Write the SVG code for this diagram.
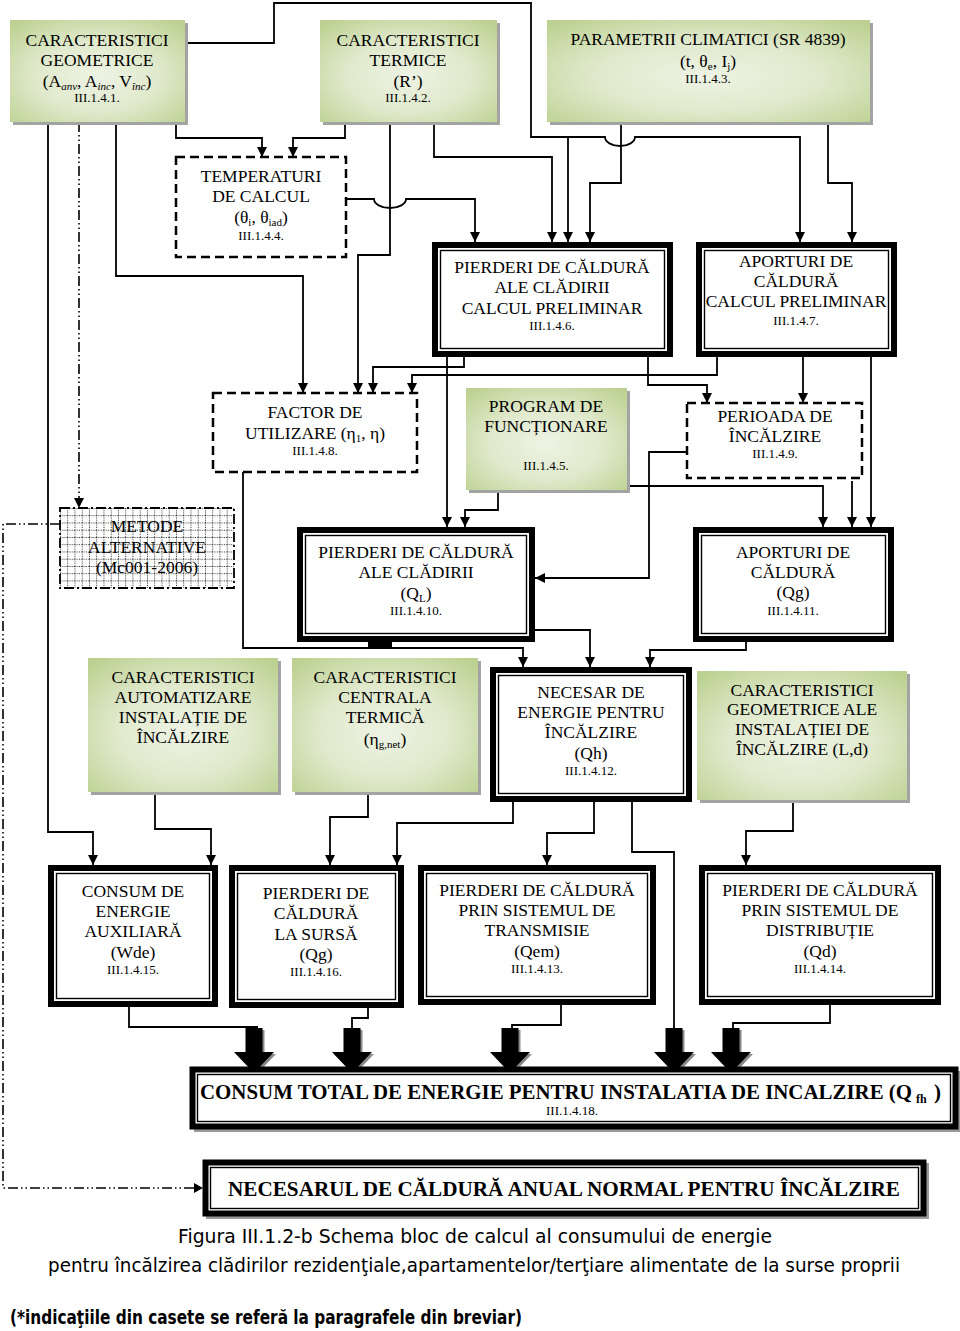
<svg xmlns="http://www.w3.org/2000/svg" width="960" height="1331" viewBox="0 0 960 1331">
<style>
text{font-family:"Liberation Serif","Times New Roman",serif;fill:#000}
.t{font-size:17.5px;text-anchor:middle}
.n{font-size:13px;text-anchor:middle}
.s{font-size:11px}
.c{fill:none;stroke:#000;stroke-width:1.8;marker-end:url(#ah)}
.cn{fill:none;stroke:#000;stroke-width:1.8}
.dd{fill:none;stroke:#000;stroke-width:1.6;stroke-dasharray:10 3 1.5 3 1.5 3}
.tk{fill:#fff;stroke:#000;stroke-width:6}
.tn{fill:none;stroke:#000;stroke-width:1.4}
.gb{fill:url(#gr)}
.sh{fill:#a3a3a3}
.ds{fill:#fff;stroke:#000;stroke-width:2.5;stroke-dasharray:9 5}
.ba{fill:#000}
.bs{fill:#8a8a8a}
.cap{font-family:"DejaVu Sans","Liberation Sans",sans-serif;font-size:19px}
</style>
<defs>
<marker id="ah" viewBox="0 0 10 10" refX="10" refY="5" markerWidth="10" markerHeight="10" markerUnits="userSpaceOnUse" orient="auto"><path d="M0,0 L10,5 L0,10 z" fill="#000"/></marker>
<radialGradient id="gr" cx="50%" cy="55%" r="70%">
<stop offset="0" stop-color="#eef3e4"/>
<stop offset="0.5" stop-color="#e0e9cc"/>
<stop offset="1" stop-color="#bcd191"/>
</radialGradient>
<pattern id="grid" x="60" y="508" width="7.25" height="7.25" patternUnits="userSpaceOnUse"><path d="M0,0.5H7.25M0.5,0V7.25" stroke="#000" stroke-width="0.8" stroke-dasharray="1 1.2"/></pattern>
</defs>
<rect width="960" height="1331" fill="#fff"/>

<g id="connectors">
<path class="c" d="M185,43 H274 V3 H531 V137 H605 A15 9 0 0 0 635 137 H800 V242"/>
<path class="c" d="M568,137 V242"/>
<path class="c" d="M176,122 V138 H262 V157"/>
<path class="c" d="M345,122 V138 H293 V157"/>
<path class="c" d="M48,122 V832 H93 V865"/>
<path class="dd" d="M79,122 V500"/>
<path d="M74,498 L79,508 L84,498 z" fill="#000"/>
<path class="c" d="M116,122 V276 H303 V393"/>
<path class="c" d="M390,122 V255 H358 V393"/>
<path class="c" d="M434,122 V157 H552 V242"/>
<path class="c" d="M621,122 V183 H590 V242"/>
<path class="c" d="M828,122 V183 H852 V242"/>
<path class="c" d="M346,199 H374 A16 9 0 0 0 406 199 H475 V242"/>
<path class="c" d="M464,357 V367 H373 V393"/>
<path class="c" d="M447,357 V527"/>
<path class="c" d="M717,357 V375 H412 V393"/>
<path class="c" d="M648,357 V385 H707 V403"/>
<path class="c" d="M803,357 V403"/>
<path class="c" d="M871,357 V527"/>
<path class="c" d="M687,452 H649 V578 H535"/>
<path class="c" d="M852,481 V527"/>
<path class="c" d="M627,486 H823 V527"/>
<path class="c" d="M498,490 V510 H465 V527"/>
<path class="c" d="M243,472 V648 H523 V667"/>
<path class="c" d="M535,630 H590 V667"/>
<path class="c" d="M746,642 V650 H650 V667"/>
<path class="dd" d="M60,524 H3 V1188 H196"/>
<path d="M194,1183 L203,1188 L194,1193 z" fill="#000"/>
<path class="c" d="M155,792 V829 H211 V865"/>
<path class="c" d="M368,792 V817 H330 V865"/>
<path class="c" d="M513,802 V823 H397 V865"/>
<path class="c" d="M594,802 V833 H547 V865"/>
<path class="cn" d="M632,802 V852 H674 V1028"/>
<path class="c" d="M793,800 V831 H746 V865"/>
<path class="cn" d="M129,1007 V1027 H258"/>
<path class="cn" d="M368,1008 V1018 H352 V1028"/>
<path class="cn" d="M561,1005 V1025 H512 V1028"/>
<path class="cn" d="M830,1005 V1023 H733 V1028"/>
<g id="blockarrows">
<path class="bs" d="M247.5,1030 H264.5 V1054 H276 L256,1075 L236,1054 H247.5 Z"/>
<path class="ba" d="M245.5,1028 H262.5 V1052 H274 L254,1073 L234,1052 H245.5 Z"/>
<path class="bs" d="M345.5,1030 H362.5 V1054 H374 L354,1075 L334,1054 H345.5 Z"/>
<path class="ba" d="M343.5,1028 H360.5 V1052 H372 L352,1073 L332,1052 H343.5 Z"/>
<path class="bs" d="M503.5,1030 H520.5 V1054 H532 L512,1075 L492,1054 H503.5 Z"/>
<path class="ba" d="M501.5,1028 H518.5 V1052 H530 L510,1073 L490,1052 H501.5 Z"/>
<path class="bs" d="M667.5,1030 H684.5 V1054 H696 L676,1075 L656,1054 H667.5 Z"/>
<path class="ba" d="M665.5,1028 H682.5 V1052 H694 L674,1073 L654,1052 H665.5 Z"/>
<path class="bs" d="M724.5,1030 H741.5 V1054 H753 L733,1075 L713,1054 H724.5 Z"/>
<path class="ba" d="M722.5,1028 H739.5 V1052 H751 L731,1073 L711,1052 H722.5 Z"/>
</g>
</g>

<g id="G1">
<rect class="sh" x="13" y="23" width="175" height="102"/>
<rect class="gb" x="10" y="20" width="175" height="102"/>
<text class="t" x="97" y="46">CARACTERISTICI</text>
<text class="t" x="97" y="66">GEOMETRICE</text>
<text class="t" x="97" y="87">(A<tspan class="s" font-style="italic" dy="3">anv</tspan><tspan dy="-3">, A</tspan><tspan class="s" font-style="italic" dy="3">inc</tspan><tspan dy="-3">, V</tspan><tspan class="s" font-style="italic" dy="3">înc</tspan><tspan dy="-3">)</tspan></text>
<text class="n" x="97" y="102">III.1.4.1.</text>
</g>

<g id="G2">
<rect class="sh" x="323" y="23" width="177" height="102"/>
<rect class="gb" x="320" y="20" width="177" height="102"/>
<text class="t" x="408" y="46">CARACTERISTICI</text>
<text class="t" x="408" y="66">TERMICE</text>
<text class="t" x="408" y="87">(R’)</text>
<text class="n" x="408" y="102">III.1.4.2.</text>
</g>

<g id="G3">
<rect class="sh" x="550" y="23" width="323" height="102"/>
<rect class="gb" x="547" y="20" width="323" height="102"/>
<text class="t" x="708" y="45">PARAMETRII CLIMATICI (SR 4839)</text>
<text class="t" x="708" y="67">(t, θ<tspan class="s" dy="3">e</tspan><tspan dy="-3">, I</tspan><tspan class="s" dy="3">j</tspan><tspan dy="-3">)</tspan></text>
<text class="n" x="708" y="83">III.1.4.3.</text>
</g>

<g id="TEMP">
<rect class="ds" x="176" y="157" width="170" height="100"/>
<text class="t" x="261" y="182">TEMPERATURI</text>
<text class="t" x="261" y="202">DE CALCUL</text>
<text class="t" x="261" y="223">(θ<tspan class="s" dy="3">i</tspan><tspan dy="-3">, θ</tspan><tspan class="s" dy="3">iad</tspan><tspan dy="-3">)</tspan></text>
<text class="n" x="261" y="240">III.1.4.4.</text>
</g>

<g id="P6">
<rect class="tk" x="435" y="245" width="235" height="109"/>
<rect class="tn" x="440.5" y="250.5" width="224" height="98"/>
<text class="t" x="552" y="273">PIERDERI DE CĂLDURĂ</text>
<text class="t" x="552" y="293">ALE CLĂDIRII</text>
<text class="t" x="552" y="314">CALCUL PRELIMINAR</text>
<text class="n" x="552" y="330">III.1.4.6.</text>
</g>

<g id="A7">
<rect class="tk" x="699" y="245" width="195" height="109"/>
<rect class="tn" x="704.5" y="250.5" width="184" height="98"/>
<text class="t" x="796" y="267">APORTURI DE</text>
<text class="t" x="796" y="287">CĂLDURĂ</text>
<text class="t" x="796" y="307">CALCUL PRELIMINAR</text>
<text class="n" x="796" y="325">III.1.4.7.</text>
</g>

<g id="FACT">
<rect class="ds" x="213" y="393" width="204" height="79"/>
<text class="t" x="315" y="418">FACTOR DE</text>
<text class="t" x="315" y="439">UTILIZARE (η<tspan class="s" dy="3">1</tspan><tspan dy="-3">, η)</tspan></text>
<text class="n" x="315" y="455">III.1.4.8.</text>
</g>

<g id="PROG">
<rect class="sh" x="469" y="391" width="161" height="102"/>
<rect class="gb" x="466" y="388" width="161" height="102"/>
<text class="t" x="546" y="412">PROGRAM DE</text>
<text class="t" x="546" y="432">FUNCȚIONARE</text>
<text class="n" x="546" y="470">III.1.4.5.</text>
</g>

<g id="PER">
<rect class="ds" x="687" y="403" width="175" height="75"/>
<text class="t" x="775" y="422">PERIOADA DE</text>
<text class="t" x="775" y="442">ÎNCĂLZIRE</text>
<text class="n" x="775" y="458">III.1.4.9.</text>
</g>

<g id="METODE">
<rect x="60" y="508" width="174" height="80" fill="#fff"/>
<text class="t" x="147" y="532">METODE</text>
<text class="t" x="147" y="553">ALTERNATIVE</text>
<text class="t" x="147" y="573">(Mc001-2006)</text>
<rect x="60" y="508" width="174" height="80" fill="url(#grid)"/>
<rect x="60" y="508" width="174" height="80" fill="none" stroke="#000" stroke-width="1.8" stroke-dasharray="10 3 2 3"/>
</g>

<g id="QL">
<rect x="368" y="640" width="24" height="8" fill="#000"/>
<rect class="tk" x="300" y="530" width="232" height="109"/>
<rect class="tn" x="305.5" y="535.5" width="221" height="98"/>
<text class="t" x="416" y="558">PIERDERI DE CĂLDURĂ</text>
<text class="t" x="416" y="578">ALE CLĂDIRII</text>
<text class="t" x="416" y="599">(Q<tspan class="s" dy="3">L</tspan><tspan dy="-3">)</tspan></text>
<text class="n" x="416" y="615">III.1.4.10.</text>
</g>

<g id="Qg">
<rect class="tk" x="696" y="530" width="195" height="109"/>
<rect class="tn" x="701.5" y="535.5" width="184" height="98"/>
<text class="t" x="793" y="558">APORTURI DE</text>
<text class="t" x="793" y="578">CĂLDURĂ</text>
<text class="t" x="793" y="598">(Qg)</text>
<text class="n" x="793" y="615">III.1.4.11.</text>
</g>

<g id="AUT">
<rect class="sh" x="91" y="661" width="190" height="134"/>
<rect class="gb" x="88" y="658" width="190" height="134"/>
<text class="t" x="183" y="683">CARACTERISTICI</text>
<text class="t" x="183" y="703">AUTOMATIZARE</text>
<text class="t" x="183" y="723">INSTALAȚIE DE</text>
<text class="t" x="183" y="743">ÎNCĂLZIRE</text>
</g>

<g id="CEN">
<rect class="sh" x="295" y="661" width="186" height="134"/>
<rect class="gb" x="292" y="658" width="186" height="134"/>
<text class="t" x="385" y="683">CARACTERISTICI</text>
<text class="t" x="385" y="703">CENTRALA</text>
<text class="t" x="385" y="723">TERMICĂ</text>
<text class="t" x="385" y="745">(η<tspan class="s" dy="3">g,net</tspan><tspan dy="-3">)</tspan></text>
</g>

<g id="Qh">
<rect class="tk" x="493" y="670" width="196" height="129"/>
<rect class="tn" x="498.5" y="675.5" width="185" height="118"/>
<text class="t" x="591" y="698">NECESAR DE</text>
<text class="t" x="591" y="718">ENERGIE PENTRU</text>
<text class="t" x="591" y="738">ÎNCĂLZIRE</text>
<text class="t" x="591" y="759">(Qh)</text>
<text class="n" x="591" y="775">III.1.4.12.</text>
</g>

<g id="GIN">
<rect class="sh" x="700" y="674" width="210" height="129"/>
<rect class="gb" x="697" y="671" width="210" height="129"/>
<text class="t" x="802" y="696">CARACTERISTICI</text>
<text class="t" x="802" y="715">GEOMETRICE ALE</text>
<text class="t" x="802" y="735">INSTALAȚIEI DE</text>
<text class="t" x="802" y="755">ÎNCĂLZIRE (L,d)</text>
</g>

<g id="Wde">
<rect class="tk" x="51" y="868" width="164" height="136"/>
<rect class="tn" x="56.5" y="873.5" width="153" height="125"/>
<text class="t" x="133" y="897">CONSUM DE</text>
<text class="t" x="133" y="917">ENERGIE</text>
<text class="t" x="133" y="937">AUXILIARĂ</text>
<text class="t" x="133" y="958">(Wde)</text>
<text class="n" x="133" y="974">III.1.4.15.</text>
</g>

<g id="QgS">
<rect class="tk" x="232" y="868" width="169" height="137"/>
<rect class="tn" x="237.5" y="873.5" width="158" height="126"/>
<text class="t" x="316" y="899">PIERDERI DE</text>
<text class="t" x="316" y="919">CĂLDURĂ</text>
<text class="t" x="316" y="940">LA SURSĂ</text>
<text class="t" x="316" y="960">(Qg)</text>
<text class="n" x="316" y="976">III.1.4.16.</text>
</g>

<g id="Qem">
<rect class="tk" x="421" y="868" width="232" height="134"/>
<rect class="tn" x="426.5" y="873.5" width="221" height="123"/>
<text class="t" x="537" y="896">PIERDERI DE CĂLDURĂ</text>
<text class="t" x="537" y="916">PRIN SISTEMUL DE</text>
<text class="t" x="537" y="936">TRANSMISIE</text>
<text class="t" x="537" y="957">(Qem)</text>
<text class="n" x="537" y="973">III.1.4.13.</text>
</g>

<g id="Qd">
<rect class="tk" x="702" y="868" width="236" height="134"/>
<rect class="tn" x="707.5" y="873.5" width="225" height="123"/>
<text class="t" x="820" y="896">PIERDERI DE CĂLDURĂ</text>
<text class="t" x="820" y="916">PRIN SISTEMUL DE</text>
<text class="t" x="820" y="936">DISTRIBUȚIE</text>
<text class="t" x="820" y="957">(Qd)</text>
<text class="n" x="820" y="973">III.1.4.14.</text>
</g>

<g id="QTOT">
<rect x="194" y="1071" width="766" height="61" fill="#9a9a9a"/>
<rect class="tk" x="192.5" y="1069.5" width="763" height="57" stroke-width="5"/>
<rect class="tn" x="197.5" y="1074.5" width="753" height="47"/>
<text x="200" y="1099" font-size="20.6" font-weight="bold" textLength="712" lengthAdjust="spacingAndGlyphs">CONSUM TOTAL DE ENERGIE PENTRU INSTALATIA DE INCALZIRE (Q</text>
<text x="916" y="1103" font-size="12" font-weight="bold">fh</text>
<text x="934" y="1099" font-size="21" font-weight="bold">)</text>
<text x="572" y="1115" font-size="12" text-anchor="middle" textLength="52" lengthAdjust="spacingAndGlyphs">III.1.4.18.</text>
</g>

<g id="NEC">
<rect x="206" y="1163" width="723" height="56" fill="#9a9a9a"/>
<rect class="tk" x="205.5" y="1162.5" width="718" height="51" stroke-width="5"/>
<rect class="tn" x="210.5" y="1167.5" width="708" height="41"/>
<text x="228" y="1196" font-size="21" font-weight="bold" textLength="672" lengthAdjust="spacingAndGlyphs">NECESARUL DE CĂLDURĂ ANUAL NORMAL PENTRU ÎNCĂLZIRE</text>
</g>

<g id="caption">
<text class="cap" x="178" y="1243" textLength="594" lengthAdjust="spacingAndGlyphs">Figura III.1.2-b Schema bloc de calcul al consumului de energie</text>
<text class="cap" x="48" y="1272" textLength="852" lengthAdjust="spacingAndGlyphs">pentru încălzirea clădirilor rezidenţiale,apartamentelor/terţiare alimentate de la surse proprii</text>
<text class="cap" x="10" y="1324" font-size="16.5" font-weight="bold" textLength="512" lengthAdjust="spacingAndGlyphs">(*indicaţiile din casete se referă la paragrafele din breviar)</text>
</g>
</svg>
